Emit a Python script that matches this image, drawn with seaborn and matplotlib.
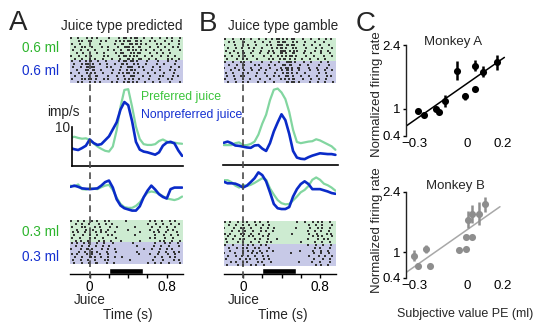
import numpy as np
import pandas as pd
import matplotlib
matplotlib.use('Agg')
import matplotlib.pyplot as plt
import seaborn as sns

sns.set_theme(style='white')
plt.rcParams['font.family'] = ['Liberation Sans', 'DejaVu Sans']

# ---------------- data ----------------
time_s = [-0.20, -0.16, -0.12, -0.08, -0.04, 0.00, 0.04, 0.08, 0.12, 0.16,
          0.20, 0.24, 0.28, 0.32, 0.36, 0.40, 0.44, 0.48, 0.52, 0.56,
          0.60, 0.64, 0.68, 0.72, 0.76, 0.80, 0.84, 0.88, 0.92, 0.96]

A_up_pref = [7.2, 7.5, 7.2, 7.0, 7.1, 6.7, 5.8, 5.0, 4.4, 3.9, 3.7, 5.0, 9.2, 15.2, 19.5,
             19.7, 15.2, 10.1, 6.9, 5.6, 5.4, 5.4, 5.6, 6.4, 6.8, 6.3, 5.9, 6.0, 5.8, 5.7]
A_up_nonpref = [4.6, 4.3, 4.1, 4.6, 5.2, 6.8, 5.9, 5.4, 5.6, 6.6, 7.6, 9.4, 11.2, 14.5, 16.4,
                15.6, 11.5, 6.2, 4.2, 3.7, 3.5, 3.2, 2.9, 3.5, 5.2, 6.0, 6.2, 5.8, 4.0, 2.6]
A_lo_pref = [8.3, 8.1, 8.6, 7.4, 7.3, 7.6, 7.5, 7.4, 7.9, 8.3, 8.5, 7.2, 5.2, 3.6, 2.8,
             2.6, 2.6, 3.1, 4.0, 5.3, 6.5, 6.8, 6.6, 6.2, 5.6, 5.0, 4.8, 4.6, 4.9, 5.5]
A_lo_nonpref = [8.0, 8.3, 8.0, 7.6, 7.5, 7.4, 7.5, 7.6, 8.3, 9.2, 9.6, 7.8, 4.8, 3.2, 2.5,
                2.2, 1.9, 1.9, 3.0, 5.3, 7.0, 8.3, 7.3, 6.1, 5.4, 5.0, 7.4, 7.8, 7.8, 7.8]
B_up_pref = [5.1, 5.1, 5.1, 5.6, 5.8, 5.1, 5.1, 5.4, 6.0, 7.8, 10.6, 12.9, 16.6, 19.3, 19.6,
             18.6, 16.9, 13.6, 9.0, 5.9, 5.6, 5.8, 6.0, 6.1, 6.6, 6.3, 5.8, 5.3, 4.8, 3.9]
B_up_nonpref = [5.7, 6.0, 5.6, 5.0, 4.9, 4.7, 4.5, 4.4, 5.0, 5.1, 4.2, 3.6, 5.6, 8.6, 10.9,
                13.0, 11.5, 8.0, 3.6, 1.9, 1.6, 1.5, 2.0, 2.4, 2.7, 3.0, 2.9, 2.8, 2.8, 2.6]
B_lo_pref = [9.7, 9.7, 9.2, 8.3, 7.8, 8.5, 8.2, 8.5, 9.0, 9.6, 10.2, 9.8, 7.6, 6.0, 4.6,
             3.8, 3.5, 3.6, 4.5, 5.5, 6.6, 7.2, 8.2, 9.8, 10.4, 9.8, 8.8, 8.4, 7.8, 7.0]
B_lo_nonpref = [9.3, 8.9, 8.9, 8.8, 8.4, 7.8, 8.3, 9.2, 10.2, 11.7, 11.0, 9.4, 6.6, 3.6, 2.5,
                2.3, 2.3, 2.8, 5.5, 7.4, 8.7, 9.4, 8.7, 7.4, 7.4, 7.4, 7.1, 6.8, 6.4, 6.2]

# rasters: one string per trial, 30 ms bins from -0.2 s; digit = position of spike within bin
A_top_pref = [
    "1.2..3.2.1...2..3.213.21.2..1.3..2.1.3.",
    "..3.1.21..2.1..3.1232.312..2.1..3..1.2.",
    "2..1..3...1....2.31.21312.1..3.2..1..2.",
    ".2.3.1.2..3..1..2.3212.31..2..1.3..2.1",
    "3..2..1.2...3..1.2.3123.2.1.3..2..1..3",
    "..1.2.3..1.2...3.21.3.121..2.3..1.2...",
    "1.3..2.1...2.1..3.2123.1.3..1..2.3..1.",
    ".2..1.3.2..1..2..1.312.32..1.2...3.1.2"]
A_top_nonpref = [
    "2..1.231.2..1...3.2132.1..2...1..3..2.",
    ".1.3.213..1.2..2.312.3.2..1..3..2...1.",
    "3..2.3121...2.1..2.321.3.1..2..1..3..2",
    "..1..2131.2...3..1.2312..2..1.3...2.1.",
    "1.3..3.12..1..2.3.1213.2..3..1..2..3..",
    ".2..1.2.31..3...1.2.321..1.2..3.1..2.1",
    "2..3.1213..2.1..2.3.12.3...1..2..3.1..",
    "..2.1.3.2.1...2.1.2312.1.3..2..1..2..3"]
A_bot_pref = [
    "1.2.3..2.1.3.2.....1.......2.1.3..2.1.",
    ".3..1.2..3..1.2...........3..2..1.3..2",
    "2..3.1..2.1..3..1.....2.....1.3..2..1.",
    "..1..2.3..2..1.....3.......2..1..3.2..",
    "3.2..1..3.2.1..2........1...3.2..1..3.",
    ".1..2.3..1..3.2.......2......1..2.3..1",
    "2..1..3.2..1...3...........2.1..3..2..",
    ".3.2..1..3.2..1..2......1.....3.2..1.3"]
A_bot_nonpref = [
    "2.1.3.2..1.2..3......2.......1..3.2..1",
    ".3..1.2.3..1.2.........1....3..2..1..2",
    "1..2.312..3..1.2.........2..1.3..2.1..",
    "..3..1.2.1..2..3.......1......2..1.3.2",
    "2.1..3.2..1.3..........3...2..1..3..1.",
    ".2..1.312.2..1.2.3...........1.3..2.1.",
    "3..2..1.2..3.1......2.......2...1..3.2",
    ".1.3..2.31..2..1..........3..1.2..1..3"]
B_top_pref = [
    "2..1.3.1.2..1.2.3.2123.21..2..1.3..2.1",
    ".3.2..21..3..2..1.3121.3.2..1..2..3...",
    "1..3..3.2..1..3.2.3213121..3..2..1..2.",
    ".2..1.1.3.2..1..3.2312.3.1..2..3..1..2",
    "3..2..2...1.3..2.1.3213.12..1..2.3..1.",
    "..1.3.31.2..2..1.2.312.31..3..1..2..3.",
    "2.3..1.2..1..3..2.3.1232.1..2..1..3..2",
    ".1..2.3.1..2...3.1.2313.2..1.3..2..1.."]
B_top_nonpref = [
    "2..1.3.1.2...1..2..1.3212..3..1..2..1.",
    ".3..2.21..3.1..2.3..2131..2..1..3...2.",
    "1..3..3..2..3...1..3.212.31..2..1..3..",
    "..2..1.1.3..1.2...2.1312..1..3..2..1.2",
    "3..1..2.2..2..1..3..2312.2..1...3..2..",
    ".1.2.3.1...1..3..2.1.213..3..2..1..3.1",
    "2..3..2..1..2...1..3.1231..2..1.3..2..",
    ".2..1.3.2..3..1..2...3121.1..3..2..1.3"]
B_bot_pref = [
    "2.1.3.2.1.3.2..1.........2..1.3.2.1.3.",
    ".3..1.2.3..1.2.3.............2.3..1..2",
    "1..2.3.1.2..3..1.2.......1...3..2.1.3.",
    "..3..1.2..1.3.2..1...........1.2.3..2.",
    "2.1..3.1.2..1..3.......2.....2..1..3.1",
    ".2.3..2.3.1..2.1..............3.2.1..2",
    "3..1.2.1..3.2..1..2..........1..2.3.1.",
    ".1..3.3..2..1.3.2.........3....2..1.3."]
B_bot_nonpref = [
    "2..1..3.2.1.3.2..............1.3..2..1",
    ".3..2.2.1.3.1..2...............2.1..3.",
    "..1...3.2.1.2.3..1........2...3..2..1.",
    "1..3..2..3.2.1.........1.......1.3..2.",
    ".2..1.1.2.3..2.1.............2..3..1.2",
    "3....2.3.1.2.3.2...............1..2.3.",
    "..2.1.3.1..3.1..2.........1...2..1..3.",
    ".1..3.2..2.1.3.................3.2..1."]

reward_window = [0.2, 0.55]

# panel C
monkA_pe = [-0.278, -0.244, -0.178, -0.163, -0.127, -0.061, -0.012, 0.042, 0.042, 0.089, 0.165]
monkA_fr = [0.95, 0.86, 0.99, 0.93, 1.17, 1.83, 1.27, 1.43, 1.94, 1.81, 2.02]
monkA_err = [0.03, 0.03, 0.04, 0.04, 0.13, 0.21, 0.07, 0.03, 0.12, 0.12, 0.16]
monkB_pe = [-0.300, -0.280, -0.232, -0.210, -0.050, -0.010, -0.010, 0.023, 0.000, 0.027, 0.066, 0.100]
monkB_fr = [0.92, 0.68, 1.07, 0.69, 1.04, 1.07, 1.35, 1.35, 1.76, 1.88, 1.90, 2.11]
monkB_err = [0.12, 0.03, 0.10, 0.03, 0.03, 0.03, 0.03, 0.03, 0.20, 0.21, 0.26, 0.17]
fit_span_A = [-0.347, 0.208]
fit_span_B = [-0.347, 0.183]

# ---------------- style ----------------
GREEN_BG = '#CDEBD1'
BLUE_BG = '#C7C9E7'
GREEN_TXT = '#2DB52D'
BLUE_TXT = '#1530D0'
GREEN_LINE = '#82D6A0'
BLUE_LINE = '#0A2BC8'
DOT = '#353535'

W, H = 535, 324
fig = plt.figure(figsize=(W / 100, H / 100), dpi=100)


def box(x0, y0, x1, y1):
    return [x0 / W, 1 - y1 / H, (x1 - x0) / W, (y1 - y0) / H]


def bare_ax(x0, y0, x1, y1):
    ax = fig.add_axes(box(x0, y0, x1, y1))
    ax.set_facecolor('none')
    for s in ax.spines.values():
        s.set_visible(False)
    ax.set_xticks([])
    ax.set_yticks([])
    ax.set_xlabel('')
    ax.set_ylabel('')
    return ax


def T(x, y, s, **kw):
    kw.setdefault('ha', 'center')
    kw.setdefault('va', 'center')
    fig.text(x / W, 1 - y / H, s, **kw)


def spikes(rows, base):
    ts, ys = [], []
    n = len(rows)
    for r, s in enumerate(rows):
        for i, c in enumerate(s):
            if c in '123':
                ts.append(-0.2 + 0.03 * (i + (int(c) - 0.5) / 3))
                ys.append(base + n - r - 0.5)
    return ts, ys


def raster(x0, y0, x1, y1, pref, nonpref):
    ax = bare_ax(x0, y0, x1, y1)
    ax.axhspan(8, 16, color=GREEN_BG, lw=0)
    ax.axhspan(0, 8, color=BLUE_BG, lw=0)
    t1, r1 = spikes(pref, 8)
    t2, r2 = spikes(nonpref, 0)
    sns.scatterplot(x=t1 + t2, y=r1 + r2, ax=ax, marker='s', s=1.0,
                    color=DOT, linewidth=0)
    ax.set_xlim(-0.2, 0.97)
    ax.set_ylim(0, 16)
    ax.set_xlabel('')
    ax.set_ylabel('')
    return ax


def curves(x0, y0, x1, y1, xlim, ylim, pref, nonpref):
    ax = bare_ax(x0, y0, x1, y1)
    sns.lineplot(x=time_s, y=pref, ax=ax, color=GREEN_LINE, lw=1.6)
    sns.lineplot(x=time_s, y=nonpref, ax=ax, color=BLUE_LINE, lw=1.9)
    ax.set_xlim(*xlim)
    ax.set_ylim(*ylim)
    ax.set_xlabel('')
    ax.set_ylabel('')
    return ax


def time_axis(x0, y0, x1, y1):
    ax = fig.add_axes(box(x0, y0, x1, y1))
    ax.set_facecolor('none')
    for k, s in ax.spines.items():
        s.set_visible(k == 'bottom')
    ax.spines['bottom'].set_color('black')
    ax.spines['bottom'].set_linewidth(1.0)
    ax.barh(y=0, width=reward_window[1] - reward_window[0], left=reward_window[0],
            height=0.5, align='edge', color='black')
    ax.set_xlim(-0.2, 0.97)
    ax.set_ylim(0, 1)
    ax.set_yticks([])
    ax.set_xticks([0, 0.2, 0.4, 0.6, 0.8])
    ax.set_xticklabels(['0', '', '', '', '0.8'])
    ax.tick_params(axis='x', direction='out', length=3, width=1, colors='black',
                   labelsize=9.8, pad=1.0, bottom=True)
    return ax


def dashed(x0, y0, x1, y1):
    ax = bare_ax(x0, y0, x1, y1)
    ax.set_xlim(-0.2, 0.97)
    ax.set_ylim(0, 1)
    ax.axvline(0, color='#4A4A4A', lw=1.2, linestyle=(0, (4.0, 2.6)))


# ---------------- panel A ----------------
raster(70.45, 37, 183.1, 83, A_top_pref, A_top_nonpref)
axA = curves(72.4, 85, 183.1, 166, (-0.18, 0.97), (0, 81 / 3.9), A_up_pref, A_up_nonpref)
axA.spines['bottom'].set_visible(True)
axA.spines['bottom'].set_color('black')
axA.spines['bottom'].set_linewidth(1.2)
axA.spines['left'].set_visible(True)
axA.spines['left'].set_color('black')
axA.spines['left'].set_linewidth(1.2)
axA.spines['left'].set_bounds(0, 10)
curves(70.45, 168, 183.1, 218, (-0.2, 0.97), (0, 50 / 3.9), A_lo_pref, A_lo_nonpref)
raster(70.45, 220, 183.1, 264, A_bot_pref, A_bot_nonpref)
time_axis(70.45, 262, 183.1, 274)
dashed(70.45, 38, 183.1, 278)

# ---------------- panel B ----------------
raster(223.75, 38, 336.4, 83, B_top_pref, B_top_nonpref)
axB = curves(222.8, 85, 338.3, 165, (-0.21, 0.99), (0, 80 / 3.9), B_up_pref, B_up_nonpref)
axB.spines['bottom'].set_visible(True)
axB.spines['bottom'].set_color('black')
axB.spines['bottom'].set_linewidth(1.2)
curves(223.75, 168, 336.4, 218, (-0.2, 0.97), (0, 50 / 3.9), B_lo_pref, B_lo_nonpref)
raster(223.75, 221, 336.4, 266, B_bot_pref, B_bot_nonpref)
time_axis(223.75, 262, 336.4, 274)
dashed(223.75, 38, 336.4, 278)

# ---------------- panel C ----------------
def scatter_panel(y0, y1, pe, fr, err, span, color, lcolor):
    ax = fig.add_axes(box(406, y0, 512, y1))
    ax.set_facecolor('none')
    for k, s in ax.spines.items():
        s.set_visible(k == 'left')
    ax.spines['left'].set_color('#222222')
    ax.spines['left'].set_linewidth(1.0)
    ax.set_xlim(*span)
    sns.regplot(x=pe, y=fr, ax=ax, scatter=False, ci=None, truncate=False,
                line_kws=dict(color=lcolor, lw=1.1))
    ax.errorbar(pe, fr, yerr=err, fmt='none', ecolor=color, elinewidth=1.8, capsize=0)
    sns.scatterplot(x=pe, y=fr, ax=ax, color=color, s=26, linewidth=0, zorder=3)
    ax.set_xlim(-0.347, 0.251)
    ax.set_ylim(0.4, 2.4)
    ax.set_yticks([0.4, 1, 2.4])
    ax.set_yticklabels(['0.4', '1', '2.4'])
    ax.set_xticks([-0.3, 0, 0.2])
    ax.set_xticklabels(['\u22120.3', '0', '0.2'])
    ax.tick_params(axis='y', direction='out', length=2.5, width=1, left=True,
                   labelsize=9.5, pad=1.5, colors='black')
    ax.tick_params(axis='x', length=0, labelsize=9.5, pad=1.5, colors='black')
    ax.set_xlabel('')
    ax.set_ylabel('')
    return ax


scatter_panel(45, 136, monkA_pe, monkA_fr, monkA_err, fit_span_A, 'black', 'black')
scatter_panel(192, 278, monkB_pe, monkB_fr, monkB_err, fit_span_B, '#8E8E8E', '#A8A8A8')

# ---------------- text ----------------
T(18, 23, 'A', fontsize=20)
T(208, 24, 'B', fontsize=20)
T(366, 24, 'C', fontsize=20)
T(121.5, 26, 'Juice type predicted', fontsize=9.8)
T(283.5, 26, 'Juice type gamble', fontsize=9.8)

T(59, 48, '0.6 ml', ha='right', fontsize=9.8, color=GREEN_TXT)
T(59, 71, '0.6 ml', ha='right', fontsize=9.8, color=BLUE_TXT)
T(59, 232, '0.3 ml', ha='right', fontsize=9.8, color=GREEN_TXT)
T(59, 257, '0.3 ml', ha='right', fontsize=9.8, color=BLUE_TXT)

T(63, 112, 'imp/s', fontsize=9.8)
T(70, 128, '10', ha='right', fontsize=9.8)
T(141, 97, 'Preferred juice', ha='left', fontsize=8.8, color='#3BC43B')
T(141, 115, 'Nonpreferred juice', ha='left', fontsize=8.8, color=BLUE_TXT)

T(89.5, 300, 'Juice', fontsize=9.8)
T(127.5, 315, 'Time (s)', fontsize=9.8)
T(244, 300, 'Juice', fontsize=9.8)
T(283, 315, 'Time (s)', fontsize=9.8)

T(453, 42, 'Monkey A', fontsize=9.5)
T(455, 186, 'Monkey B', fontsize=9.5)
T(377, 94, 'Normalized firing rate', rotation=90, fontsize=9.5)
T(377, 230, 'Normalized firing rate', rotation=90, fontsize=9.5)
T(465, 314, 'Subjective value PE (ml)', fontsize=9)

fig.savefig('out.png', dpi=100)
